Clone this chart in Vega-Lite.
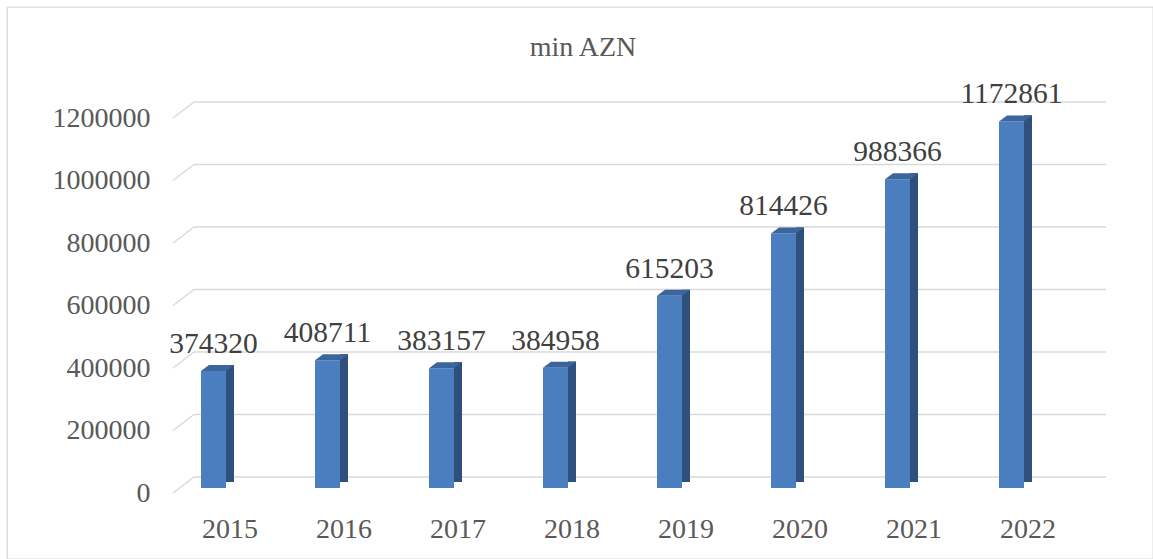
{
  "$schema": "https://vega.github.io/schema/vega-lite/v6.json",
  "width": 1146,
  "height": 552,
  "autosize": {"type": "none"},
  "padding": {"left": 7, "top": 7, "right": 0, "bottom": 0},
  "background": "white",
  "config": {
    "view": {"stroke": "#d9d9d9", "strokeWidth": 1.3},
    "font": "Liberation Serif"
  },
  "title": {
    "text": "min AZN",
    "font": "Liberation Serif",
    "fontSize": 28,
    "fontWeight": "normal",
    "color": "#595959",
    "anchor": "middle",
    "frame": "group",
    "dx": 3,
    "offset": -77,
    "baseline": "alphabetic"
  },
  "datasets": {
    "bars": [
      {"year": "2015", "value": 374320},
      {"year": "2016", "value": 408711},
      {"year": "2017", "value": 383157},
      {"year": "2018", "value": 384958},
      {"year": "2019", "value": 615203},
      {"year": "2020", "value": 814426},
      {"year": "2021", "value": 988366},
      {"year": "2022", "value": 1172861}
    ],
    "ticks": [
      {"v": 0}, {"v": 200000}, {"v": 400000}, {"v": 600000},
      {"v": 800000}, {"v": 1000000}, {"v": 1200000}
    ]
  },
  "layer": [
    {
      "data": {"name": "bars"},
      "mark": {"type": "bar", "width": 8, "xOffset": 0, "yOffset": -6, "y2Offset": -3, "color": "#2f507c"},
      "encoding": {
        "x": {
          "field": "year", "type": "nominal", "sort": null,
          "scale": {"domain": ["2015", "2016", "2017", "2018", "2019", "2020", "2021", "2022"], "range": [166, 1078], "paddingInner": 0, "paddingOuter": 0},
          "axis": {
            "orient": "bottom", "offset": -66, "domain": false, "ticks": false, "grid": false,
            "labelPadding": 44, "labelBaseline": "alphabetic", "labelAngle": 0,
            "labelFont": "Liberation Serif", "labelFontSize": 28, "labelColor": "#595959", "title": null
          }
        },
        "y": {
          "field": "value", "type": "quantitative",
          "scale": {"domain": [0, 1200000], "range": [481, 106], "nice": false, "zero": true},
          "axis": {
            "orient": "left", "offset": -166, "domain": false, "ticks": false, "grid": false,
            "labelPadding": 23, "labelOffset": 5, "format": "d",
            "values": [0, 200000, 400000, 600000, 800000, 1000000, 1200000],
            "labelFont": "Liberation Serif", "labelFontSize": 28, "labelColor": "#595959", "title": null
          }
        }
      }
    },
    {
      "data": {"name": "ticks"},
      "mark": {"type": "rule", "color": "#d9d9d9", "strokeWidth": 1.5, "xOffset": 21, "x2Offset": 21, "yOffset": -11},
      "encoding": {
        "x": {"datum": "2015", "type": "nominal", "bandPosition": 0},
        "x2": {"datum": "2022", "bandPosition": 1},
        "y": {"field": "v", "type": "quantitative"}
      }
    },
    {
      "data": {"name": "ticks"},
      "mark": {"type": "rule", "color": "#d9d9d9", "strokeWidth": 1.5, "yOffset": 5, "y2Offset": -11, "x2Offset": 21},
      "encoding": {
        "x": {"datum": "2015", "type": "nominal", "bandPosition": 0},
        "x2": {"datum": "2015", "bandPosition": 0},
        "y": {"field": "v", "type": "quantitative"},
        "y2": {"field": "v"}
      }
    },
    {
      "data": {"name": "bars"},
      "mark": {"type": "bar", "width": 8, "xOffset": 0, "yOffset": -6, "y2Offset": -3, "color": "#2f507c"},
      "encoding": {
        "x": {"field": "year", "type": "nominal", "sort": null},
        "y": {"field": "value", "type": "quantitative"}
      }
    },
    {
      "data": {"name": "bars"},
      "mark": {"type": "bar", "width": 25, "xOffset": -16.5, "color": "#4a7ebf"},
      "encoding": {
        "x": {"field": "year", "type": "nominal", "sort": null},
        "y": {"field": "value", "type": "quantitative"}
      }
    },
    {
      "data": {"name": "bars"},
      "mark": {
        "type": "point", "filled": true, "opacity": 1, "strokeWidth": 0, "size": 1089,
        "shape": "M-1,0.1818L0.5152,0.1818L1,-0.1818L-0.5152,-0.1818Z",
        "xOffset": -12.5, "yOffset": -3, "color": "#3b659d"
      },
      "encoding": {
        "x": {"field": "year", "type": "nominal", "sort": null},
        "y": {"field": "value", "type": "quantitative"}
      }
    },
    {
      "data": {"name": "bars"},
      "mark": {"type": "text", "xOffset": -16.5, "dy": -18, "baseline": "alphabetic", "align": "center", "font": "Liberation Serif", "fontSize": 29.5, "color": "#404040"},
      "encoding": {
        "x": {"field": "year", "type": "nominal", "sort": null},
        "y": {"field": "value", "type": "quantitative"},
        "text": {"field": "value", "type": "quantitative", "format": "d"}
      }
    }
  ]
}
